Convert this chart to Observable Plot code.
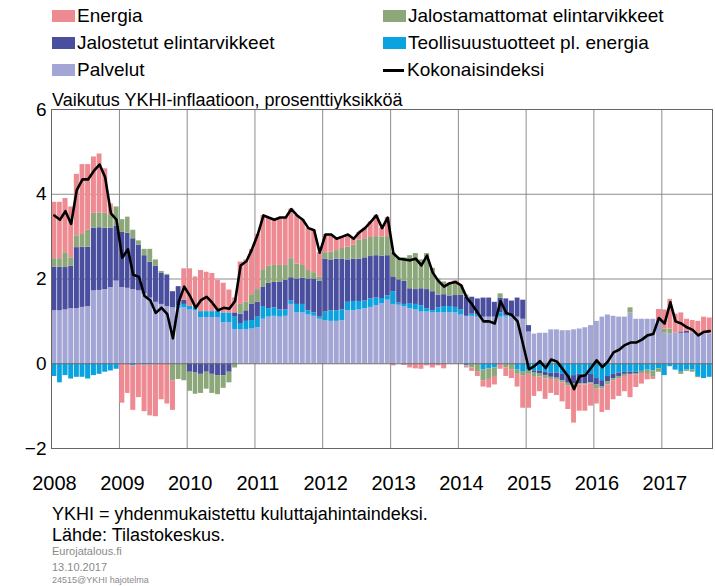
<!DOCTYPE html>
<html><head><meta charset="utf-8">
<script src="https://cdn.jsdelivr.net/npm/d3@7"></script>
<script src="https://cdn.jsdelivr.net/npm/@observablehq/plot@0.6"></script>
<style>
body{margin:0;background:#fff;font-family:"Liberation Sans",Arial,sans-serif;}
#wrap{position:relative;width:715px;height:586px;overflow:hidden;background:#fff}
.leg{position:absolute;font-size:19px;line-height:20px;color:#000;display:flex;align-items:center;white-space:nowrap}
.sw{display:inline-block;width:23px;height:12px;margin-right:2px}
.ln{display:inline-block;width:21px;height:3px;background:#000;margin-right:3px}
.txt{position:absolute;white-space:nowrap;line-height:1}
#plotbox{position:absolute;left:0;top:90px}
</style></head><body>
<div id="wrap">
  <div id="legend"></div>
  <div class="txt" style="left:52px;top:91px;font-size:18px;">Vaikutus YKHI-inflaatioon, prosenttiyksikköä</div>
  <div id="plotbox"></div>
  <div class="txt" style="left:52px;top:505px;font-size:18px;">YKHI = yhdenmukaistettu kuluttajahintaindeksi.</div>
  <div class="txt" style="left:52px;top:526px;font-size:18px;">Lähde: Tilastokeskus.</div>
  <div class="txt" style="left:52px;top:546px;font-size:11px;color:#8a8a8a;">Eurojatalous.fi</div>
  <div class="txt" style="left:52px;top:562px;font-size:11px;color:#8a8a8a;">13.10.2017</div>
  <div class="txt" style="left:52px;top:576px;font-size:9px;color:#8a8a8a;">24515@YKHI hajotelma</div>
</div>
<script>
// ---- data (monthly, Jan 2008 – Sep 2017), percentage points ----
const seriesNames = ["Palvelut", "Teollisuustuotteet pl. energia", "Jalostetut elintarvikkeet", "Jalostamattomat elintarvikkeet", "Energia"];
const seriesColors = ["#A3A6D5", "#0AA3E0", "#4A4E9E", "#8CA87A", "#EE8B92"];
const yearTicks = [2008, 2009, 2010, 2011, 2012, 2013, 2014, 2015, 2016, 2017];

const palvelut = [
 1.25,1.25,1.27,1.3,1.3,1.33,1.35,1.72,1.73,1.75,1.8,1.95,
 1.8,1.78,1.75,1.72,1.65,1.55,1.45,1.4,1.35,1.32,1.3,1.32,
 1.27,1.25,1.09,1.09,1.09,1.09,0.97,0.97,0.8,0.8,0.8,0.82,
 0.85,1.05,1.1,1.12,1.1,1.12,1.4,1.2,1.2,1.15,1.12,1.05,
 1.02,1.0,1.0,1.02,1.25,1.25,1.27,1.3,1.33,1.37,1.42,1.5,
 1.4,1.38,1.35,1.3,1.28,1.22,1.22,1.2,1.2,1.2,1.2,1.2,
 1.15,1.12,1.12,1.1,1.1,1.1,1.1,1.1,1.1,1.1,1.1,1.05,
 0.75,0.7,0.72,0.72,0.8,0.8,0.78,0.78,0.8,0.82,0.85,0.9,
 1.0,1.1,1.15,1.12,1.1,1.1,1.2,1.05,1.05,1.05,1.05,1.0,
 0.72,0.7,0.72,0.72,0.72,0.72,0.7,0.7,0.7];
const teollisuus = [
 -0.3,-0.45,-0.28,-0.36,-0.32,-0.32,-0.36,-0.28,-0.25,-0.2,-0.17,-0.13,
 0,0,-0.05,0,-0.03,-0.03,0,0,0,0,0.07,0.08,
 0.08,0.08,0.14,0.14,0.14,0.15,0.23,0.23,0.3,0.15,0.2,0.2,
 0.25,0.3,0.2,0.2,0.17,0.15,0.08,0.2,0.2,0.1,0.08,0.05,
 0.2,0.25,0.25,0.25,0.2,0.22,0.2,0.18,0.2,0.18,0.12,0.1,
 0.3,0.05,0.05,0.12,0.12,0.15,0.08,0.05,0.12,0.15,0.15,0.13,
 0.12,-0.05,0.05,0.05,-0.15,-0.12,-0.1,0.1,0.03,0.03,-0.15,-0.2,
 -0.15,-0.17,-0.18,-0.2,-0.22,-0.22,-0.25,-0.28,-0.28,-0.25,-0.25,-0.25,
 -0.35,-0.4,-0.3,-0.25,-0.22,-0.2,-0.2,-0.2,-0.18,-0.15,-0.17,-0.12,
 -0.28,-0.07,-0.15,-0.2,-0.15,-0.15,-0.3,-0.35,-0.32];
const jalostetut = [
 1.03,1.03,1.0,1.0,1.44,1.42,1.4,1.48,1.48,1.45,1.4,1.3,
 1.3,1.3,1.2,1.08,0.9,0.85,0.85,0.73,0.74,0.38,0.45,0.1,
 -0.2,-0.22,-0.25,-0.2,-0.25,-0.28,-0.28,-0.2,0.1,0.22,0.25,0.38,
 0.35,0.45,0.6,0.6,0.65,0.7,0.55,0.6,0.62,0.75,0.8,0.85,
 1.25,1.2,1.22,1.2,1.0,1.0,1.0,1.02,1.0,1.0,1.0,0.95,
 0.35,0.55,0.55,0.35,0.35,0.4,0.45,0.45,0.3,0.28,0.25,0.28,
 0.35,0.45,0.4,0.38,0.45,0.45,0.35,0.35,0.4,0.35,0.45,0.45,
 0.15,-0.05,-0.05,-0.08,-0.1,-0.12,-0.15,-0.18,-0.2,-0.22,-0.22,-0.2,
 -0.15,-0.15,-0.12,-0.1,-0.08,-0.05,-0.05,-0.03,0,0,0,0,
 0,0,0,0.03,0.05,0,0,0,0];
const jalostamattomat = [
 0.2,0.2,0.35,0.2,0.28,0.3,0.4,0.35,0.35,0.35,0.3,0.45,
 0.3,0.38,0.2,0.1,0.15,0.3,0.15,0.05,0.02,-0.4,-0.37,-0.4,
 -0.45,-0.5,-0.45,-0.4,-0.45,-0.45,-0.3,-0.25,-0.1,0.23,0.2,0.23,
 0.3,0.4,0.4,0.4,0.4,0.35,0.45,0.35,0.3,0.2,0.15,0.1,
 0.15,0.18,0.2,0.25,0.3,0.33,0.45,0.45,0.45,0.45,0.45,0.45,
 0.57,0.52,0.55,0.78,0.85,0.68,0.85,0.55,0.38,0.3,0.3,0.32,
 0.2,0.05,-0.1,-0.2,-0.25,-0.25,-0.2,0.1,-0.1,-0.15,-0.1,-0.08,
 -0.1,-0.1,-0.08,-0.08,-0.05,-0.05,-0.05,-0.07,-0.07,-0.03,-0.03,-0.03,
 -0.1,-0.05,-0.08,-0.05,-0.05,-0.05,0.12,-0.03,-0.05,-0.08,-0.15,-0.08,
 0.1,0.12,0,-0.05,-0.03,-0.05,-0.03,0,0];
const energia = [
 1.33,1.33,1.28,1.2,1.45,1.65,1.55,1.33,1.39,1.05,0.27,0,
 -0.93,-0.7,-1.05,-0.8,-1.1,-1.2,-1.25,-0.85,-0.95,-0.7,0,0.74,
 0.89,0.72,0.97,0.93,0.9,0.73,0.7,0.54,0.35,1.0,1.0,1.07,
 1.3,1.3,1.15,1.08,1.13,1.13,1.17,1.15,1.08,1.0,1.0,0.57,
 0.43,0.42,0.28,0.28,0.3,0.15,0.18,0.25,0.37,0.5,0.21,0.45,
 -0.05,0,-0.04,-0.1,-0.12,-0.13,-0.05,-0.1,-0.05,-0.12,0,0.03,
 0.03,-0.05,-0.08,-0.1,-0.15,-0.2,-0.2,-0.13,-0.2,-0.2,-0.3,-0.77,
 -0.8,-0.45,-0.35,-0.48,-0.33,-0.36,-0.45,-0.55,-0.85,-0.62,-0.62,-0.52,
 -0.35,-0.55,-0.6,-0.45,-0.42,-0.36,-0.55,-0.3,-0.25,-0.15,-0.05,0.28,
 0.45,0.7,0.45,0.45,0.28,0.3,0.3,0.4,0.38];
const kokonaisindeksi = [
 3.5,3.4,3.6,3.3,4.1,4.35,4.35,4.55,4.7,4.4,3.55,3.4,
 2.5,2.7,2.1,2.05,1.6,1.5,1.2,1.32,1.17,0.6,1.45,1.82,
 1.6,1.32,1.5,1.58,1.44,1.26,1.32,1.3,1.48,2.32,2.42,2.7,
 3.05,3.5,3.45,3.4,3.45,3.45,3.65,3.5,3.4,3.2,3.15,2.62,
 3.05,3.05,2.95,3.0,3.05,2.95,3.1,3.2,3.35,3.5,3.2,3.45,
 2.6,2.48,2.46,2.44,2.48,2.32,2.55,2.15,1.95,1.82,1.9,1.93,
 1.85,1.55,1.4,1.2,1.0,1.0,0.95,1.48,1.2,1.15,1.0,0.45,
 -0.13,-0.05,0.06,-0.1,0.1,0.05,-0.12,-0.3,-0.6,-0.3,-0.27,-0.1,
 0.08,-0.08,0.05,0.27,0.33,0.44,0.5,0.5,0.57,0.67,0.7,1.08,
 0.95,1.45,1.0,0.95,0.86,0.8,0.67,0.75,0.77];

// ---- build tables ----
const start = new Date(Date.UTC(2008, 0, 1));
const end = new Date(Date.UTC(2017, 9, 1));
const months = d3.utcMonth.range(start, end);
const seriesValues = [palvelut, teollisuus, jalostetut, jalostamattomat, energia];
const bars = [];
seriesNames.forEach((s, k) => seriesValues[k].forEach((v, i) => bars.push({date: months[i], series: s, value: v})));
const line = kokonaisindeksi.map((v, i) => ({date: d3.utcDay.offset(months[i], 15), value: v}));
const yearDates = yearTicks.map(y => new Date(Date.UTC(y, 0, 1)));

const chart = Plot.plot({
  width: 715, height: 408,
  marginLeft: 51, marginRight: 3, marginTop: 19, marginBottom: 50,
  style: {fontFamily: "Liberation Sans, Arial, sans-serif", fontSize: "19px", color: "#000", background: "transparent"},
  x: {type: "utc", domain: [start, end], label: null},
  y: {domain: [-2, 6], label: null},
  color: {domain: seriesNames, range: seriesColors},
  marks: [
    Plot.ruleY([2, 4], {stroke: "#8c8c8c", strokeWidth: 1}),
    Plot.ruleX(yearDates.slice(1), {stroke: "#8c8c8c", strokeWidth: 1}),
    Plot.rectY(bars, {x: "date", interval: d3.utcMonth, y: "value", fill: "series", insetLeft: 0.35, insetRight: 0.35}),
    Plot.ruleY([0], {stroke: "#6a6a6a", strokeWidth: 1}),
    Plot.lineY(line, {x: "date", y: "value", stroke: "#000", strokeWidth: 2.6, strokeLinejoin: "round"}),
    Plot.frame({stroke: "#666", strokeWidth: 1}),
    Plot.axisY({ticks: [-2, 0, 2, 4, 6], tickSize: 0, tickPadding: 5, fontSize: 19, label: null}),
    Plot.axisX({ticks: yearDates, tickFormat: d3.utcFormat("%Y"), tickSize: 0, tickPadding: 27, dx: 3, fontSize: 20, label: null})
  ]
});
document.getElementById("plotbox").appendChild(chart);

// ---- legend ----
const legendItems = [
  {label: "Energia", color: seriesColors[4], left: 52, top: 6},
  {label: "Jalostetut elintarvikkeet", color: seriesColors[2], left: 52, top: 33},
  {label: "Palvelut", color: seriesColors[0], left: 52, top: 60},
  {label: "Jalostamattomat elintarvikkeet", color: seriesColors[3], left: 383, top: 6},
  {label: "Teollisuustuotteet pl. energia", color: seriesColors[1], left: 383, top: 33},
  {label: "Kokonaisindeksi", color: null, left: 383, top: 60}
];
const leg = document.getElementById("legend");
legendItems.forEach(it => {
  const d = document.createElement("div");
  d.className = "leg";
  d.style.left = it.left + "px";
  d.style.top = it.top + "px";
  const s = document.createElement("span");
  if (it.color) { s.className = "sw"; s.style.background = it.color; }
  else { s.className = "ln"; }
  d.appendChild(s);
  d.appendChild(document.createTextNode(it.label));
  leg.appendChild(d);
});
</script>
</body></html>
